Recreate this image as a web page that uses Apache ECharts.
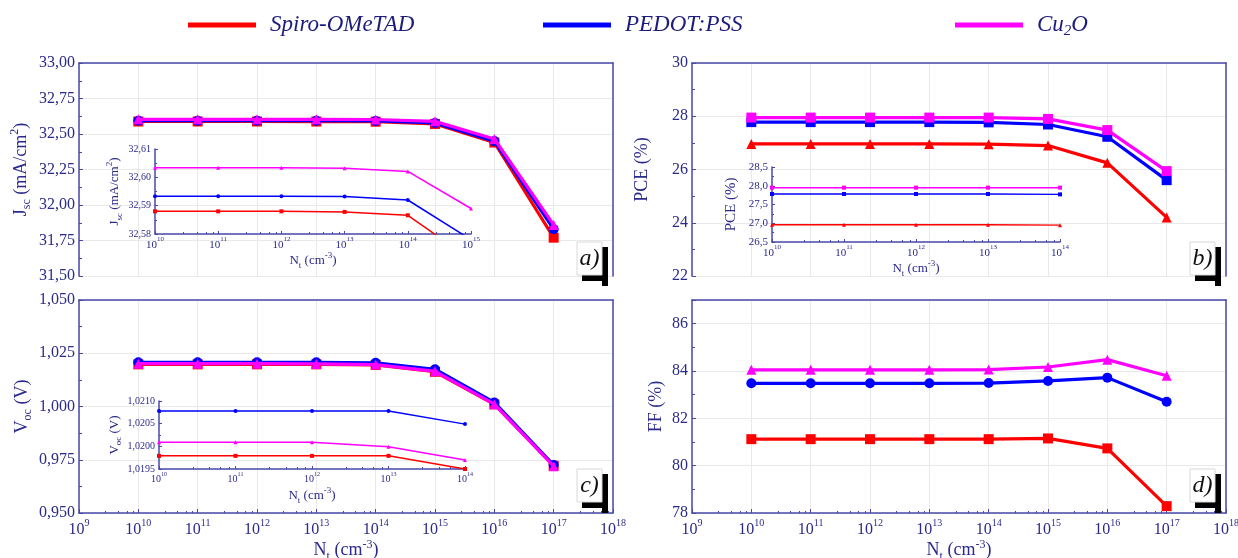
<!DOCTYPE html>
<html><head><meta charset="utf-8">
<script src="https://cdn.jsdelivr.net/npm/echarts@6/dist/echarts.min.js"></script>
<style>html,body{margin:0;padding:0;background:#fff}#c{width:1238px;height:558px}</style>
</head><body><div id="c"></div>
<script>
// ---------- data ----------
const trapDensity = [1e10, 1e11, 1e12, 1e13, 1e14, 1e15, 1e16, 1e17];
const htmNames = ['Spiro-OMeTAD', 'PEDOT:PSS', 'Cu2O'];

const jscSpiro = [32.5880, 32.5880, 32.5880, 32.5878, 32.5866, 32.571, 32.440, 31.770];
const jscPedot = [32.5933, 32.5933, 32.5933, 32.5932, 32.5920, 32.578, 32.450, 31.830];
const jscCu2o  = [32.6034, 32.6034, 32.6034, 32.6032, 32.6021, 32.589, 32.465, 31.860];

const pceSpiro = [26.96, 26.96, 26.96, 26.96, 26.95, 26.90, 26.25, 24.20];
const pcePedot = [27.78, 27.78, 27.78, 27.78, 27.77, 27.69, 27.23, 25.60];
const pceCu2o  = [27.95, 27.95, 27.95, 27.95, 27.95, 27.90, 27.48, 25.94];

const vocSpiro = [1.01979, 1.01979, 1.01979, 1.01979, 1.01950, 1.0163, 1.0010, 0.9722];
const vocPedot = [1.02078, 1.02078, 1.02078, 1.02078, 1.02049, 1.0175, 1.0019, 0.9725];
const vocCu2o  = [1.02009, 1.02009, 1.02009, 1.01999, 1.01970, 1.0165, 1.0011, 0.9720];

const ffSpiro = [81.12, 81.12, 81.12, 81.12, 81.12, 81.15, 80.73, 78.29];
const ffPedot = [83.48, 83.48, 83.48, 83.48, 83.49, 83.58, 83.72, 82.70];
const ffCu2o  = [84.05, 84.05, 84.05, 84.05, 84.06, 84.17, 84.48, 83.80];

const panelLetters = ['a)', 'b)', 'c)', 'd)'];

// ---------- style ----------
const F = "'Liberation Serif','Times New Roman',serif";
const AX = '#4848a8';
const TX = '#2a2a8a';
const GC = '#e9e9e9';
const COLORS = ['#ff0000', '#0000ff', '#ff00ff'];

const grids = [
  {left: 79, top: 63, width: 534, height: 213},
  {left: 692, top: 63, width: 534, height: 213},
  {left: 79, top: 300, width: 534, height: 213},
  {left: 692, top: 300, width: 534, height: 213},
  {left: 155, top: 149, width: 316, height: 85},
  {left: 772, top: 167, width: 288, height: 75},
  {left: 159, top: 401, width: 306, height: 68}
];

function powLabel(v) { return '{b|10}{s|' + Math.round(Math.log10(v)) + '}'; }
function powRich(base, sup) {
  return {
    b: {fontFamily: F, fontSize: base, color: TX, lineHeight: base + 7},
    s: {fontFamily: F, fontSize: sup, color: TX, lineHeight: sup, verticalAlign: 'top'}
  };
}
function nameRich(base, small) {
  return {
    sub: {fontFamily: F, fontSize: small, color: TX, lineHeight: small, verticalAlign: 'bottom'},
    sup: {fontFamily: F, fontSize: small, color: TX, lineHeight: small, verticalAlign: 'top'}
  };
}
const commaFmt = d => v => v.toFixed(d).replace('.', ',');

function logX(gi, min, max, opts) {
  const o = Object.assign({labels: false, line: true, base: 16, sup: 10, name: '', nameSize: 18, nameGap: 25, tick: 4, minor: 2, margin: 3}, opts);
  return {
    type: 'log', logBase: 10, gridIndex: gi, min, max, position: 'bottom',
    axisLine: {show: o.line, lineStyle: {color: AX, width: 1.5}},
    axisTick: {show: o.line, inside: true, length: o.tick, lineStyle: {color: AX}},
    minorTick: {show: o.line, length: o.minor, lineStyle: {color: AX}},
    axisLabel: {show: o.labels, formatter: powLabel, rich: powRich(o.base, o.sup), margin: o.margin, showMinLabel: true, showMaxLabel: true, hideOverlap: false},
    splitLine: {show: gi < 4, lineStyle: {color: GC, width: 1}},
    name: o.name, nameLocation: 'middle', nameGap: o.nameGap,
    nameTextStyle: {fontFamily: F, fontSize: o.nameSize, color: TX, lineHeight: o.nameSize + 6, rich: nameRich(o.nameSize, Math.round(o.nameSize * 0.68))}
  };
}
function valY(gi, min, max, interval, fmt, opts) {
  const o = Object.assign({size: 16, name: '', nameSize: 18, nameGap: 48, split: gi < 4, tick: 4, minor: 3, showMax: true}, opts);
  return {
    type: 'value', gridIndex: gi, min, max, interval,
    axisLine: {show: true, lineStyle: {color: AX, width: 1.5}},
    axisTick: {show: true, inside: true, length: o.tick, lineStyle: {color: AX}},
    minorTick: {show: true, splitNumber: 2, length: o.minor, lineStyle: {color: AX}},
    axisLabel: {formatter: fmt, fontFamily: F, fontSize: o.size, color: TX, margin: 4, showMaxLabel: o.showMax},
    splitLine: {show: o.split, lineStyle: {color: GC, width: 1}},
    name: o.name, nameLocation: 'middle', nameGap: o.nameGap,
    nameTextStyle: {fontFamily: F, fontSize: o.nameSize, color: TX, lineHeight: o.nameSize + 6, rich: nameRich(o.nameSize, Math.round(o.nameSize * 0.68))}
  };
}
function frameX(gi) {
  return {type: 'value', gridIndex: gi, position: 'top', min: 0, max: 1,
    axisLine: {show: true, onZero: false, lineStyle: {color: AX, width: 1.5}},
    axisTick: {show: false}, axisLabel: {show: false}, splitLine: {show: false}};
}
function frameY(gi) {
  return {type: 'value', gridIndex: gi, position: 'right', min: 0, max: 1,
    axisLine: {show: true, onZero: false, lineStyle: {color: AX, width: 1.5}},
    axisTick: {show: false}, axisLabel: {show: false}, splitLine: {show: false}};
}

const NT = 'N{sub|t} (cm{sup|-3})';

const xAxis = [
  logX(0, 1e9, 1e18, {line: false}),
  logX(1, 1e9, 1e18, {line: false}),
  logX(2, 1e9, 1e18, {labels: true, name: NT, nameGap: 23, margin: 5}),
  logX(3, 1e9, 1e18, {labels: true, name: NT, nameGap: 23, margin: 5}),
  logX(4, 1e10, 1e15, {labels: true, base: 11, sup: 7, name: NT, nameSize: 13, nameGap: 17, tick: 3, minor: 2, margin: 2}),
  logX(5, 1e10, 1e14, {labels: true, base: 11, sup: 7, name: NT, nameSize: 13, nameGap: 17, tick: 3, minor: 2, margin: 2}),
  logX(6, 1e10, 1e14, {labels: true, base: 10, sup: 6, name: NT, nameSize: 13, nameGap: 17, tick: 3, minor: 2, margin: 2}),
  frameX(0), frameX(1), frameX(2), frameX(3)
];

const yAxis = [
  valY(0, 31.5, 33, 0.25, commaFmt(2), {name: 'J{sub|sc} (mA/cm{sup|2})', nameGap: 46}),
  valY(1, 22, 30, 2, v => String(v), {name: 'PCE (%)', nameGap: 38}),
  valY(2, 0.95, 1.05, 0.025, commaFmt(3), {name: 'V{sub|oc} (V)', nameGap: 45}),
  valY(3, 78, 87, 2, v => String(v), {name: 'FF (%)', nameGap: 21, showMax: false}),
  valY(4, 32.58, 32.61, 0.01, commaFmt(2), {size: 10, name: 'J{sub|sc} (mA/cm{sup|2})', nameSize: 13, nameGap: 31, tick: 3, minor: 2}),
  valY(5, 26.5, 28.5, 0.5, commaFmt(1), {size: 11, name: 'PCE (%)', nameSize: 15, nameGap: 30, tick: 3, minor: 2}),
  valY(6, 1.0195, 1.021, 0.0005, commaFmt(4), {size: 10, name: 'V{sub|oc} (V)', nameSize: 13, nameGap: 31, tick: 3, minor: 2}),
  frameY(0), frameY(1), frameY(2), frameY(3)
];

const panelData = [
  [jscSpiro, jscPedot, jscCu2o],
  [pceSpiro, pcePedot, pceCu2o],
  [vocSpiro, vocPedot, vocCu2o],
  [ffSpiro, ffPedot, ffCu2o]
];
const panelSymbols = [
  ['rect', 'circle', 'triangle'],
  ['triangle', 'rect', 'rect'],
  ['rect', 'circle', 'triangle'],
  ['rect', 'circle', 'triangle']
];
// inset: grid index, source panel, number of points shown
const insets = [[4, 0, 6], [5, 1, 5], [6, 2, 5]];

const series = [];
panelData.forEach((arrs, p) => {
  arrs.forEach((arr, k) => {
    series.push({
      type: 'line', name: htmNames[k], xAxisIndex: p, yAxisIndex: p,
      data: trapDensity.map((x, i) => [x, arr[i]]),
      symbol: panelSymbols[p][k], symbolSize: 10,
      lineStyle: {color: COLORS[k], width: 3.2}, itemStyle: {color: COLORS[k]},
      z: 3 + k, animation: false
    });
  });
});
insets.forEach(([gi, p, n]) => {
  panelData[p].forEach((arr, k) => {
    series.push({
      type: 'line', name: htmNames[k], xAxisIndex: gi, yAxisIndex: gi,
      data: trapDensity.slice(0, n).map((x, i) => [x, arr[i]]),
      symbol: panelSymbols[p][k], symbolSize: 4,
      lineStyle: {color: COLORS[k], width: 1.5}, itemStyle: {color: COLORS[k]},
      z: 6 + k, animation: false
    });
  });
});

const legendLefts = [183, 538, 950];
const legend = htmNames.map((n, k) => ({
  data: [n], left: legendLefts[k], top: 6, icon: 'rect', itemWidth: 68, itemHeight: 5,
  formatter: name => name === 'Cu2O' ? 'Cu{sub|2}O' : name,
  textStyle: {fontFamily: F, fontStyle: 'italic', fontSize: 23, color: '#1c1c7c', padding: [0, 0, 0, 9], lineHeight: 28,
    rich: {sub: {fontFamily: F, fontStyle: 'italic', fontSize: 15, color: '#1c1c7c', lineHeight: 15, verticalAlign: 'bottom'}}},
  selectedMode: false
}));

// panel label boxes (decoration)
const graphic = [];
grids.slice(0, 4).forEach((g, p) => {
  const R = g.left + g.width, B = g.top + g.height;
  const up = p < 2 ? 0 : 10;
  const bx = R - 36, by = B - 34 - up;
  graphic.push({type: 'rect', shape: {x: R - 11, y: by + 5, width: 6, height: 39}, style: {fill: '#000'}, z: 50});
  graphic.push({type: 'rect', shape: {x: R - 31, y: by + 33, width: 26, height: 6}, style: {fill: '#000'}, z: 50});
  graphic.push({type: 'rect', shape: {x: bx, y: by, width: 25, height: 33}, style: {fill: '#fff', stroke: '#d8d8d8', lineWidth: 1}, z: 51});
  graphic.push({type: 'text', x: bx + 12.5, y: by + 17, style: {text: panelLetters[p], fontFamily: F, fontStyle: 'italic', fontSize: 24, fill: '#111', align: 'center', verticalAlign: 'middle'}, z: 52});
});

const chart = echarts.init(document.getElementById('c'), null, {renderer: 'canvas'});
chart.setOption({
  backgroundColor: '#fff', animation: false,
  grid: grids.map(g => Object.assign({show: false, containLabel: false, outerBoundsMode: 'none'}, g)),
  xAxis, yAxis, series, legend, graphic
});
</script></body></html>
